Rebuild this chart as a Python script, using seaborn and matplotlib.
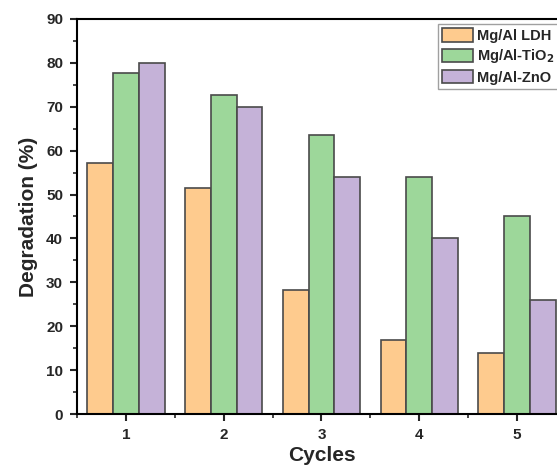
import matplotlib
matplotlib.use("Agg")
import matplotlib.pyplot as plt
from matplotlib.ticker import MultipleLocator
import seaborn as sns
import pandas as pd

cycles = ["1", "2", "3", "4", "5"]
ldh = [57.1, 51.6, 28.2, 16.8, 14.0]
tio2 = [77.8, 72.7, 63.6, 54.0, 45.0]
zno = [80.0, 70.0, 54.0, 40.1, 26.0]
series_names = ["Mg/Al LDH", "Mg/Al-TiO$_2$", "Mg/Al-ZnO"]
colors = ["#FECB8E", "#9DD79A", "#C5B2D8"]

rows = []
for name, vals in zip(series_names, [ldh, tio2, zno]):
    for c, v in zip(cycles, vals):
        rows.append({"Cycles": c, "Degradation": v, "Sample": name})
df = pd.DataFrame(rows)

sns.set_style("ticks")
plt.rcParams['font.family'] = ['Liberation Sans', 'DejaVu Sans']
plt.rcParams['font.weight'] = 'bold'
plt.rcParams['mathtext.default'] = 'bf'

fig = plt.figure(figsize=(5.57, 4.68), dpi=100)
ax = fig.add_axes([77/557, 54/468, (566-77)/557, (414-19)/468])

sns.barplot(data=df, x="Cycles", y="Degradation", hue="Sample", order=cycles,
            hue_order=series_names, palette=colors, width=0.79, saturation=1,
            edgecolor="#4a4a4a", linewidth=1.2, ax=ax, legend=True)

ax.set_xlim(-0.5, 4.5)
ax.set_ylim(0, 90)
ax.yaxis.set_major_locator(MultipleLocator(10))
ax.yaxis.set_minor_locator(MultipleLocator(5))
ax.xaxis.set_minor_locator(MultipleLocator(0.5))
for s in ax.spines.values():
    s.set_linewidth(1.5)
    s.set_color("black")
ax.tick_params(which="major", direction="out", length=5, width=1.5, labelsize=11, pad=5)
ax.tick_params(which="minor", direction="out", length=3, width=1.2)
for lab in ax.get_xticklabels() + ax.get_yticklabels():
    lab.set_fontweight("bold")
ax.set_xlabel("Cycles", fontsize=15, fontweight="bold", labelpad=3)
ax.set_ylabel("Degradation (%)", fontsize=15, fontweight="bold", labelpad=6)

leg = ax.legend(loc="upper left", bbox_to_anchor=(438/557, (468-24)/468),
                bbox_transform=fig.transFigure, borderaxespad=0,
                frameon=True, fancybox=False, edgecolor="#888888",
                prop={"weight": "bold", "size": 10.5},
                handlelength=2.1, handleheight=1.05, handletextpad=0.25,
                labelspacing=0.3, borderpad=0.3)
leg.get_frame().set_linewidth(1.0)

fig.savefig("out.png", dpi=100)
